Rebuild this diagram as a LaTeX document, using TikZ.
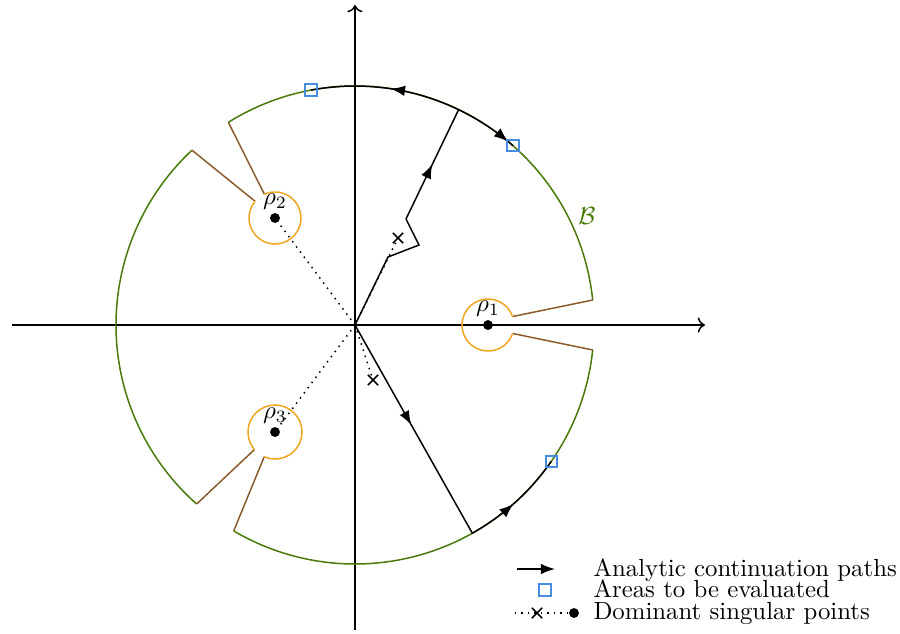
\documentclass[tikz,border=0pt]{standalone}
\usetikzlibrary{arrows.meta,calc,decorations.markings,shapes.misc}
\definecolor{bordergreen}{RGB}{72,122,8}
\definecolor{cutbrown}{RGB}{140,90,42}
\definecolor{holeorange}{RGB}{240,165,30}
\definecolor{evalblue}{RGB}{70,140,225}

\begin{document}
\begin{tikzpicture}[
	x=1.417cm, y=1.417cm,
	>=To,
	axis/.style={->, semithick},
	bound/.style={bordergreen, semithick},
	cut/.style={cutbrown, semithick},
	hole/.style={holeorange, semithick},
	contpath/.style={semithick},
	midarrow/.style={postaction={decorate}, decoration={markings, mark=at position #1 with {\arrow{Latex}}}},
	evalsq/.style={draw=evalblue, line width=0.8pt, minimum size=4.6pt, inner sep=0pt},
	sing/.style={circle, fill, inner sep=0pt, minimum size=4pt},
	nondom/.style={cross out, draw, semithick, inner sep=0pt, minimum size=3.6pt},
	ray/.style={dotted, semithick},
	legtext/.style={anchor=west, inner sep=0pt, text height=1.4ex, text depth=0.2ex}
]
\useasboundingbox (-3.55,-3.08) rectangle (5.45,3.25);

% --- Axes ---
\coordinate (O) at (0,0);
\coordinate (xl) at (-3.43,0);
\coordinate (xr) at (3.50,0);
\coordinate (yb) at (0,-3.05);
\coordinate (yt) at (0,3.20);
\draw[axis] (xl) -- (xr);
\draw[axis] (yb) -- (yt);

% --- Singular points ---
\coordinate (r1) at (1.33,0);
\coordinate (r2) at (-0.80,1.07);
\coordinate (r3) at (-0.80,-1.07);
\coordinate (x1) at (0.43,0.87);
\coordinate (x2) at (0.18,-0.55);

% --- Keyhole ends ---
\coordinate (c1a) at ($(r1)+(19:0.26)$);
\coordinate (c1b) at ($(r1)+(-19:0.26)$);
\coordinate (c2a) at ($(r2)+(114:0.26)$);
\coordinate (c2b) at ($(r2)+(140:0.26)$);
\coordinate (c3a) at ($(r3)+(-113.5:0.27)$);
\coordinate (c3b) at ($(r3)+(-139.5:0.27)$);

% --- Boundary B ---
\draw[bound] (6:2.39) arc[start angle=6, end angle=122, radius=2.39];
\draw[bound] (133:2.39) arc[start angle=133, end angle=228.5, radius=2.39];
\draw[bound] (-120.5:2.39) arc[start angle=-120.5, end angle=-6, radius=2.39];
\node[bordergreen] (blabel) at (2.32,1.09) {$\mathcal{B}$};

\draw[cut] (c1a) -- (6:2.39);
\draw[cut] (c1b) -- (-6:2.39);
\draw[cut] (c2a) -- (122:2.39);
\draw[cut] (c2b) -- (133:2.39);
\draw[cut] (c3a) -- (-120.5:2.39);
\draw[cut] (c3b) -- (-131.5:2.39);

\draw[hole] (c1a) arc[start angle=19, end angle=341, radius=0.26];
\draw[hole] (c2b) arc[start angle=140, end angle=474, radius=0.26];
\draw[hole] (c3a) arc[start angle=-113.5, end angle=220.5, radius=0.27];

% --- Dotted rays ---
\draw[ray] (O) -- (r2);
\draw[ray] (O) -- (r3);
\draw[ray] (O) -- (x1);
\draw[ray] (O) -- (x2);
\node[nondom] (n1) at (x1) {};
\node[nondom] (n2) at (x2) {};

\node[sing] (d1) at (r1) {};
\node[sing] (d2) at (r2) {};
\node[sing] (d3) at (r3) {};
\node[above] at (d1) {$\rho_1$};
\node[above] at (d2) {$\rho_2$};
\node[above] at (d3) {$\rho_3$};

% --- Analytic continuation paths ---
\coordinate (p1) at (64.3:2.39);
\coordinate (p2) at (-60.6:2.39);
\coordinate (z1) at (0.33,0.68);
\coordinate (z2) at (0.64,0.80);
\coordinate (z3) at (0.51,1.06);
\draw[contpath] (O) -- (z1) -- (z2) -- (z3);
\draw[contpath, midarrow=0.5] (z3) -- (p1);
\draw[contpath, midarrow=0.47] (p1) arc[start angle=64.3, end angle=100.6, radius=2.39];
\draw[contpath, midarrow=0.9] (p1) arc[start angle=64.3, end angle=48.6, radius=2.39];
\draw[contpath, midarrow=0.48] (O) -- (p2);
\draw[contpath, midarrow=0.47] (p2) arc[start angle=-60.6, end angle=-34.8, radius=2.39];

% --- Areas to be evaluated ---
\node[evalsq] (s1) at (100.6:2.39) {};
\node[evalsq] (s2) at (48.6:2.39) {};
\node[evalsq] (s3) at (-34.8:2.39) {};

% --- Legend ---
\coordinate (la) at (1.62,-2.44);
\coordinate (lb) at (2.00,-2.44);
\draw[contpath, -{Latex}] (la) -- (lb);
\node[evalsq] (ls) at (1.90,-2.65) {};
\coordinate (lc) at (1.60,-2.88);
\node[sing] (ld) at (2.19,-2.88) {};
\draw[ray] (lc) -- (ld);
\node[nondom, fill=white] (lx) at (1.82,-2.88) {};
\node[legtext] (t1) at (2.38,-2.45) {Analytic continuation paths};
\node[legtext] (t2) at (2.38,-2.665) {Areas to be evaluated};
\node[legtext] (t3) at (2.38,-2.88) {Dominant singular points};

\end{tikzpicture}
\end{document}
